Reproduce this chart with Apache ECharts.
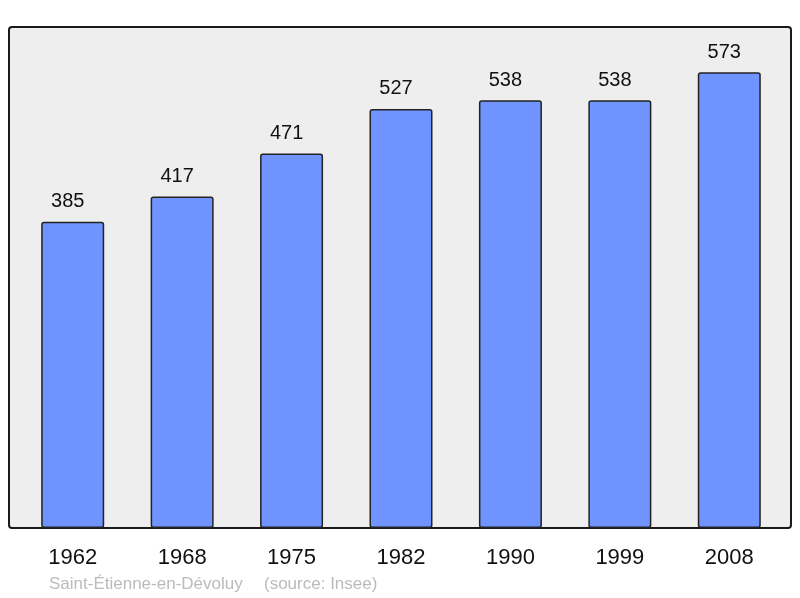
<!DOCTYPE html>
<html>
<head>
<meta charset="utf-8">
<script src="https://cdn.jsdelivr.net/npm/echarts@6/dist/echarts.min.js"></script>
<style>html,body{margin:0;padding:0;background:#fff}#c{width:800px;height:598px}</style>
</head>
<body>
<div id="c"></div>
<script>
const years = ['1962', '1968', '1975', '1982', '1990', '1999', '2008'];
const population = [385, 417, 471, 527, 538, 538, 573];
const placeName = 'Saint-Étienne-en-Dévoluy';
const sourceText = '(source: Insee)';

const chart = echarts.init(document.getElementById('c'), null, {renderer: 'canvas'});
chart.setOption({
  animation: false,
  backgroundColor: '#ffffff',
  grid: {left: 18, right: 16, top: 27, bottom: 70, containLabel: false},
  xAxis: {
    type: 'category',
    data: years,
    axisLine: {show: false},
    axisTick: {show: false},
    axisLabel: {color: '#111', fontSize: 22, fontFamily: 'Liberation Sans, Arial, sans-serif', margin: 19}
  },
  yAxis: {
    type: 'value',
    min: 0,
    max: 630,
    show: false
  },
  graphic: [
    {type: 'rect', z: -10, shape: {x: 9, y: 27, width: 782, height: 501, r: 3},
     style: {fill: '#eeeeee', stroke: '#1a1a1a', lineWidth: 2}},
    {type: 'text', left: 49, top: 576, style: {text: placeName, fill: '#bbbbbb', fontSize: 17, fontFamily: 'Liberation Sans, Arial, sans-serif'}},
    {type: 'text', left: 264, top: 576, style: {text: sourceText, fill: '#bbbbbb', fontSize: 17, fontFamily: 'Liberation Sans, Arial, sans-serif'}}
  ],
  series: [{
    type: 'bar',
    data: population,
    barWidth: 63,
    itemStyle: {color: '#7094ff', borderColor: '#222222', borderWidth: 1.5, borderRadius: 2},
    label: {show: true, position: 'top', distance: 10, offset: [-5, 0], color: '#111', fontSize: 20, fontFamily: 'Liberation Sans, Arial, sans-serif'}
  }]
});
</script>
</body>
</html>
